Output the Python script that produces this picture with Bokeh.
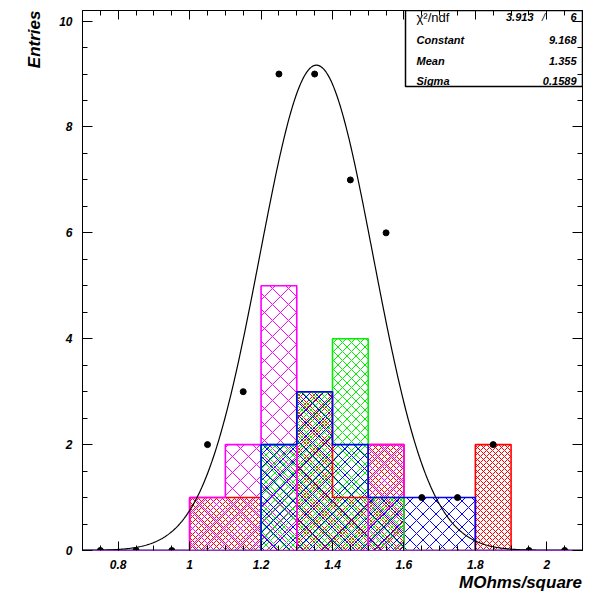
import numpy as np
from bokeh.plotting import figure
from bokeh.models import (Range1d, LinearAxis, FixedTicker, CustomJSTickFormatter,
                          Label, BoxAnnotation, Title)
from bokeh.embed import file_html
from bokeh.resources import INLINE

# ---------------- data ----------------
bin_edges = [0.7, 0.8, 0.9, 1.0, 1.1, 1.2, 1.3, 1.4, 1.5, 1.6, 1.7, 1.8, 1.9, 2.0, 2.1]
entries   = [0, 0, 0, 2, 3, 9, 9, 7, 6, 1, 1, 2, 0, 0]
red_h     = [0, 0, 0, 1, 1, 0, 3, 1, 2, 0, 0, 2, 0, 0]
magenta_h = [0, 0, 0, 1, 2, 5, 0, 0, 2, 0, 0, 0, 0, 0]
green_h   = [0, 0, 0, 0, 0, 2, 3, 4, 1, 0, 0, 0, 0, 0]
blue_h    = [0, 0, 0, 0, 0, 2, 3, 2, 1, 1, 1, 0, 0, 0]

fit_constant = 9.168
fit_mean = 1.355
fit_sigma = 0.1589
chi2 = 3.913
ndf = 6

x_major = [0.8, 1.0, 1.2, 1.4, 1.6, 1.8, 2.0]
y_major = [0, 2, 4, 6, 8, 10]

FONT = "Liberation Sans"

# ---------------- layout helpers (picture pixel -> data) ----------------
XMIN, XMAX = 0.7, 2.1
YMIN, YMAX = 0.0, 10.2
W, H = 595, 595
FL, FR, FT, FB = 82, 582, 10, 550   # frame edges in picture pixels


def px_x(px):
    return XMIN + (px - FL) / (FR - FL) * (XMAX - XMIN)


def px_y(py):
    return YMIN + (FB - py) / (FB - FT) * (YMAX - YMIN)


p = figure(width=W, height=H,
           x_range=Range1d(XMIN, XMAX), y_range=Range1d(YMIN, YMAX),
           output_backend="svg", toolbar_location=None,
           min_border_left=FL, min_border_right=W - FR,
           min_border_top=FT, min_border_bottom=H - FB)
p.grid.visible = False
p.outline_line_color = "black"
p.outline_line_width = 1
p.background_fill_color = "white"
p.border_fill_color = "white"

edges = np.array(bin_edges)
lefts = edges[:-1]
rights = edges[1:]
centers = (lefts + rights) / 2

# ---------------- hatched histograms ----------------
hists = [
    (red_h, "#ff0000", 6),
    (magenta_h, "#ff00ff", 16),
    (green_h, "#00ee00", 9),
    (blue_h, "#0000ff", 13),
]
for vals, col, sc in hists:
    p.quad(left=lefts, right=rights, bottom=0, top=vals,
           fill_alpha=0, line_alpha=0,
           hatch_pattern="x", hatch_color=col, hatch_scale=sc, hatch_weight=1)

for vals, col, sc in hists:
    v = np.array(vals, dtype=float)
    sx = np.concatenate([[edges[0]], np.repeat(edges, 2)[1:-1], [edges[-1]]])
    sy = np.concatenate([[0.0], np.repeat(v, 2), [0.0]])
    p.line(sx, sy, line_color=col, line_width=1.6)

# ---------------- fit curve ----------------
gx = np.linspace(XMIN, XMAX, 500)
gy = fit_constant * np.exp(-0.5 * ((gx - fit_mean) / fit_sigma) ** 2)
p.line(gx, gy, line_color="black", line_width=1.2)

# ---------------- data points ----------------
p.scatter(centers, entries, size=6, color="black")

# ---------------- axes ----------------
x_minor = [round(0.7 + 0.05 * i, 2) for i in range(29)]
y_minor = [round(0.5 * i, 1) for i in range(21)]

xt = FixedTicker(ticks=x_major, minor_ticks=x_minor)
yt = FixedTicker(ticks=y_major, minor_ticks=y_minor)

for ax in p.xaxis:
    ax.ticker = xt
    ax.formatter = CustomJSTickFormatter(
        code="var s = tick.toFixed(1); return s.endsWith('.0') ? s.slice(0, -2) : s;")
    ax.major_label_policy.__class__  # AllLabels by default
    ax.major_label_text_font = FONT
    ax.major_label_text_font_style = "bold italic"
    ax.major_label_text_font_size = "12px"
    ax.major_label_text_color = "black"
    ax.major_label_standoff = 9
    ax.major_tick_in = 9
    ax.major_tick_out = 0
    ax.minor_tick_in = 5
    ax.minor_tick_out = 0
    ax.major_tick_line_color = "black"
    ax.minor_tick_line_color = "black"
    ax.axis_line_color = "#9030c8"
    ax.axis_line_width = 1.2

for ax in p.yaxis:
    ax.ticker = yt
    ax.formatter = CustomJSTickFormatter(code="return String(Math.round(tick));")
    ax.major_label_text_font = FONT
    ax.major_label_text_font_style = "bold italic"
    ax.major_label_text_font_size = "12px"
    ax.major_label_text_color = "black"
    ax.major_label_standoff = 10
    ax.major_tick_in = 10
    ax.major_tick_out = 0
    ax.minor_tick_in = 5
    ax.minor_tick_out = 0
    ax.major_tick_line_color = "black"
    ax.minor_tick_line_color = "black"
    ax.axis_line_color = "black"

top_ax = LinearAxis(ticker=xt, major_label_text_font_size="0px", major_label_standoff=0,
                    major_tick_in=9, major_tick_out=0, minor_tick_in=5, minor_tick_out=0,
                    axis_line_color="black")
right_ax = LinearAxis(ticker=yt, major_label_text_font_size="0px", major_label_standoff=0,
                      major_tick_in=10, major_tick_out=0, minor_tick_in=5, minor_tick_out=0,
                      axis_line_color="black")
p.add_layout(top_ax, "above")
p.add_layout(right_ax, "right")

# ---------------- axis titles ----------------
p.add_layout(Title(text="Entries", align="right", text_font=FONT,
                   text_font_style="bold italic", text_font_size="17px",
                   text_color="black", standoff=25), "left")

# x title: a label-only axis whose single tick sits at the title's centre
xtitle_pos = px_x(520)
xtitle_ax = LinearAxis(ticker=FixedTicker(ticks=[xtitle_pos], minor_ticks=[]),
                       formatter=CustomJSTickFormatter(code="return 'MOhms/square';"),
                       major_tick_in=0, major_tick_out=0, minor_tick_in=0, minor_tick_out=0,
                       axis_line_color=None, major_label_standoff=1,
                       major_label_text_font=FONT, major_label_text_font_style="bold italic",
                       major_label_text_font_size="17px", major_label_text_color="black")
p.add_layout(xtitle_ax, "below")

# ---------------- stats box ----------------
p.add_layout(BoxAnnotation(left=px_x(405), right=px_x(582), top=px_y(10), bottom=px_y(86),
                           fill_color="white", fill_alpha=1, line_color="black",
                           line_alpha=1, line_width=1.5, level="underlay"))

rows = [
    ("Constant", f"{fit_constant:.3f}", 39),
    ("Mean", f"{fit_mean:.3f}", 60),
    ("Sigma", f"{fit_sigma:.4f}", 80),
]
for name, val, py in rows:
    p.add_layout(Label(x=px_x(416), y=px_y(py), text=name, text_align="left",
                       text_baseline="middle", text_font=FONT, text_color="black",
                       text_font_style="bold italic", text_font_size="11px"))
    p.add_layout(Label(x=px_x(576), y=px_y(py), text=val, text_align="right",
                       text_baseline="middle", text_font=FONT, text_color="black",
                       text_font_style="bold italic", text_font_size="11px"))

p.add_layout(Label(x=px_x(416), y=px_y(17), text="χ²/ndf", text_align="left",
                   text_baseline="middle", text_font=FONT, text_color="black",
                   text_font_style="normal", text_font_size="13px"))
p.add_layout(Label(x=px_x(533), y=px_y(16), text=f"{chi2:.3f}", text_align="right",
                   text_baseline="middle", text_font=FONT, text_color="black",
                   text_font_style="bold italic", text_font_size="11px"))
p.add_layout(Label(x=px_x(543), y=px_y(16), text="/", text_align="center",
                   text_baseline="middle", text_font=FONT, text_color="black",
                   text_font_style="italic", text_font_size="11px"))
p.add_layout(Label(x=px_x(576), y=px_y(16), text=f"{ndf}", text_align="right",
                   text_baseline="middle", text_font=FONT, text_color="black",
                   text_font_style="bold italic", text_font_size="11px"))

open("out.html", "w").write(file_html(p, INLINE))
